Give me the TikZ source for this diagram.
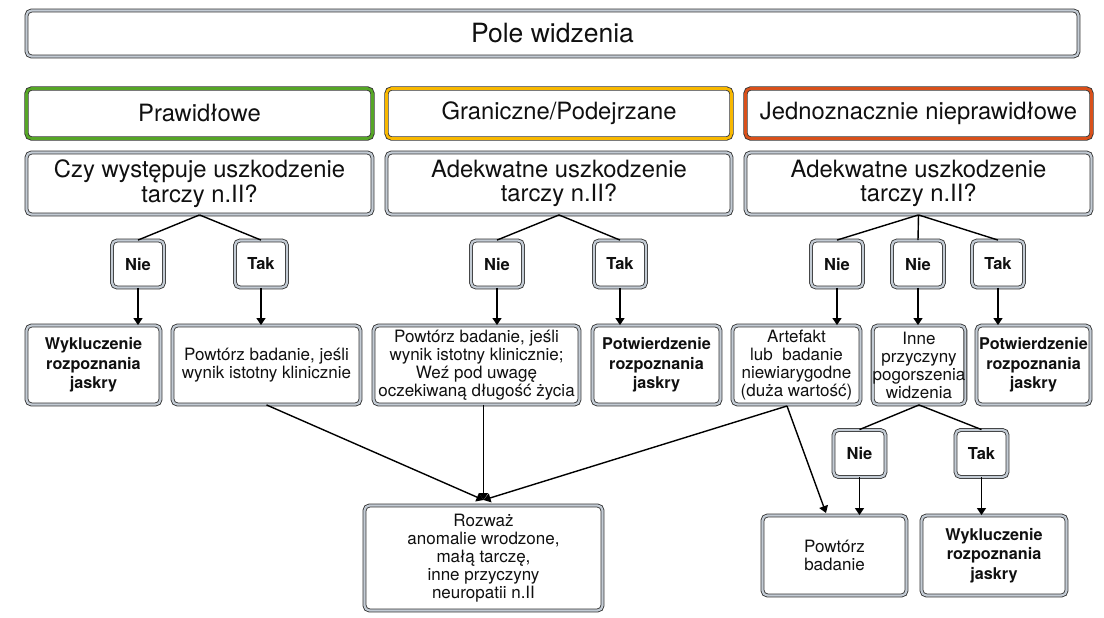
\documentclass[tikz,border=0pt]{standalone}
\usepackage{fontspec}
\setmainfont{TeX Gyre Heros}
\usetikzlibrary{arrows.meta,calc}
\definecolor{band}{HTML}{C3CBD4}
\definecolor{edge}{HTML}{333333}
\definecolor{okgreen}{HTML}{56A626}
\definecolor{warnyellow}{HTML}{F8B800}
\definecolor{badred}{HTML}{D9501A}
\definecolor{ink}{HTML}{101010}

\begin{document}
\begin{tikzpicture}[x=1pt,y=-1pt,
  frame/.style={draw=edge, line width=0.85pt, double distance=2.2pt,
    rounded corners=5pt, fill=white, inner sep=0pt, text=ink, align=center},
  gbox/.style={frame, double=band},
  okbox/.style={frame, double=okgreen, double distance=2.6pt},
  warnbox/.style={frame, double=warnyellow, double distance=2.6pt},
  badbox/.style={frame, double=badred, double distance=2.6pt},
  headtext/.style={font=\fontsize{23.8}{24.5}\selectfont},
  choice/.style={gbox, minimum width=52, minimum height=47,
    font=\fontsize{16.5}{18}\selectfont\bfseries},
  result/.style={gbox, font=\fontsize{17}{18}\selectfont},
  verdict/.style={gbox, font=\fontsize{16.2}{19.5}\selectfont\bfseries},
  link/.style={draw=black, line width=1.4pt},
  flow/.style={link, -{Triangle[width=9pt,length=7pt]}}
]
\useasboundingbox (0,0) rectangle (1104,618);

% title and the three categories
\node[gbox, minimum width=1052, minimum height=46,
  font=\fontsize{26.5}{28}\selectfont] (title) at (552.5,33.5) {Pole widzenia};

\node[okbox, headtext, minimum width=346, minimum height=50] (cat1) at (199.5,113.5) {Prawidłowe};
\node[warnbox, headtext, minimum width=345, minimum height=50] (cat2) at (559,113.5) {Graniczne/Podejrzane};
\node[badbox, headtext, minimum width=346, minimum height=50] (cat3) at (918.5,113.5) {Jednoznacznie nieprawidłowe};

% questions
\node[gbox, headtext, minimum width=346, minimum height=62] (q1) at (199.5,183.5) {Czy występuje uszkodzenie\\tarczy n.II?};
\node[gbox, headtext, minimum width=345, minimum height=62] (q2) at (559,183.5) {Adekwatne uszkodzenie\\tarczy n.II?};
\node[gbox, headtext, minimum width=346, minimum height=62] (q3) at (918.5,183.5) {Adekwatne uszkodzenie\\tarczy n.II?};

% answers
\node[choice] (n1) at (138,264) {Nie};
\node[choice] (t1) at (261,264) {Tak};
\node[choice] (n2) at (497,264) {Nie};
\node[choice] (t2) at (620,264) {Tak};
\node[choice] (n3) at (837,264) {Nie};
\node[choice] (m3) at (918,264) {Nie};
\node[choice] (t3) at (998,264) {Tak};

% outcomes
\node[verdict, minimum width=134, minimum height=79] (wyk1) at (93.5,365) {Wykluczenie\\rozpoznania\\jaskry};
\node[result, minimum width=188, minimum height=79] (pow1) at (266.5,365) {Powtórz badanie, jeśli\\wynik istotny klinicznie};
\node[result, minimum width=206, minimum height=79] (pow2) at (476.5,365) {Powtórz badanie, jeśli\\wynik istotny klinicznie;\\Weź pod uwagę\\oczekiwaną długość życia};
\node[verdict, minimum width=128, minimum height=79] (pot1) at (656.5,365) {Potwierdzenie\\rozpoznania\\jaskry};
\node[result, minimum width=128, minimum height=79] (art) at (796.5,365) {Artefakt\\lub\ \ badanie\\niewiarygodne\\(duża wartość)};
\node[result, minimum width=91, minimum height=79] (inne) at (919,365) {Inne\\przyczyny\\pogorszenia\\widzenia};
\node[verdict, minimum width=114, minimum height=79] (pot2) at (1033.5,365) {Potwierdzenie\\rozpoznania\\jaskry};

% second decision under "Inne przyczyny"
\node[choice] (n5) at (859.5,453.5) {Nie};
\node[choice] (t5) at (981.5,453.5) {Tak};

\node[result, minimum width=144, minimum height=80] (pow3) at (834.5,555.5) {Powtórz\\badanie};
\node[verdict, minimum width=145, minimum height=80] (wyk2) at (994,555.5) {Wykluczenie\\rozpoznania\\jaskry};

\node[result, minimum width=238, minimum height=105] (roz) at (483.5,558) {Rozważ\\anomalie wrodzone,\\małą tarczę,\\inne przyczyny\\neuropatii n.II};

% branch lines from the questions
\foreach \q/\a in {q1/n1, q1/t1, q2/n2, q2/t2, q3/n3, q3/m3, q3/t3, inne/n5, inne/t5}
  \draw[link] (\q.south) -- (\a.north);

% arrows from answers to outcomes
\foreach \a/\r in {n1/wyk1, t1/pow1, n2/pow2, t2/pot1, n3/art, m3/inne, t3/pot2, n5/pow3, t5/wyk2}
  \draw[flow] (\a.south) -- (\a.south |- \r.north);

% arrows converging on "Rozważ"
\coordinate (meet) at (483.5,500);
\coordinate (artout) at (787,406);
\coordinate (powin) at (826,513);
\draw[flow] (pow1.south) -- (meet);
\draw[flow] (pow2.south -| meet) -- (meet);
\draw[flow] (artout) -- (meet);
\draw[flow] (artout) -- (powin);
\end{tikzpicture}
\end{document}
